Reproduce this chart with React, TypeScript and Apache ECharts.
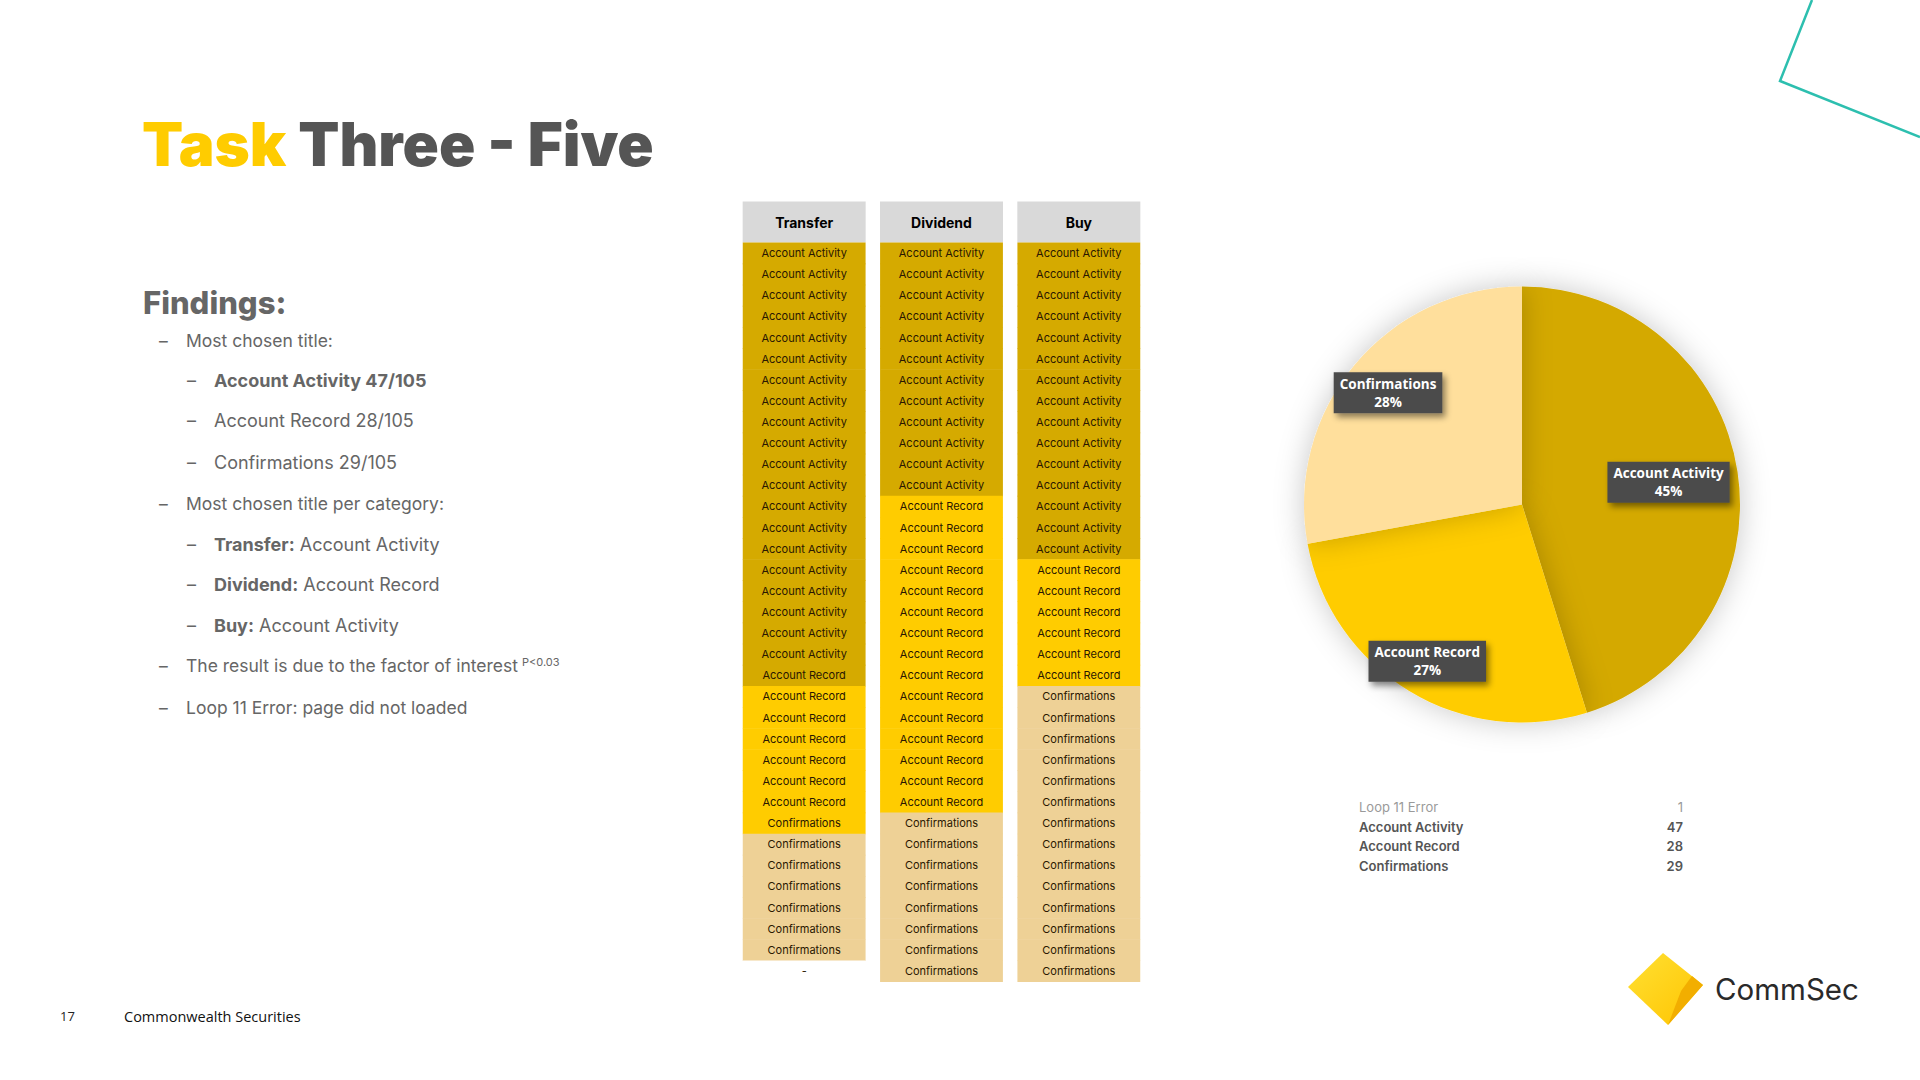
import React, { useEffect, useRef } from "react";
import * as echarts from "echarts";

// ---------- data ----------
const columnHeaders = ["Transfer", "Dividend", "Buy"];

// run-length lists of the titles written in each column (top to bottom)
const transferTitleRuns: [string, number][] = [
  ["Account Activity", 20],
  ["Account Record", 7],
  ["Confirmations", 7],
  ["-", 1],
];
const dividendTitleRuns: [string, number][] = [
  ["Account Activity", 12],
  ["Account Record", 15],
  ["Confirmations", 8],
];
const buyTitleRuns: [string, number][] = [
  ["Account Activity", 15],
  ["Account Record", 6],
  ["Confirmations", 14],
];

// run-length lists of the cell shading in each column
const transferFillRuns: [string, number][] = [
  ["Account Activity", 21],
  ["Account Record", 7],
  ["Confirmations", 6],
  ["none", 1],
];
const dividendFillRuns: [string, number][] = [
  ["Account Activity", 12],
  ["Account Record", 15],
  ["Confirmations", 8],
];
const buyFillRuns: [string, number][] = [
  ["Account Activity", 15],
  ["Account Record", 6],
  ["Confirmations", 14],
];

const pieCategories = ["Account Activity", "Account Record", "Confirmations"];
const pieValues = [47, 28, 29];

const summaryLabels = ["Loop 11 Error", "Account Activity", "Account Record", "Confirmations"];
const summaryValues = [1, 47, 28, 29];

// ---------- styles ----------
const tableFill: Record<string, string> = {
  "Account Activity": "#D5AA00",
  "Account Record": "#FFCC00",
  Confirmations: "#EED196",
  none: "#FFFFFF",
};
const pieColors = ["#D4A900", "#FFCC00", "#FFDF9C"];
const labelRadiusFactor = [0.68, 0.84, 0.8];

const PIE_CX = 1522;
const PIE_CY = 504.5;
const PIE_R = 218;

const expand = (runs: [string, number][]) => {
  const out: string[] = [];
  runs.forEach(([v, n]) => {
    for (let i = 0; i < n; i++) out.push(v);
  });
  return out;
};

const titleCols = [transferTitleRuns, dividendTitleRuns, buyTitleRuns].map(expand);
const fillCols = [transferFillRuns, dividendFillRuns, buyFillRuns].map(expand);
const rowCount = Math.max(...titleCols.map((c) => c.length));
const rowNames = titleCols[1].map((_, i) => String(i + 1));

const cells: { value: number[]; title: string; fill: string }[] = [];
titleCols.forEach((col, ci) => {
  col.forEach((t, ri) => {
    cells.push({ value: [ci, ri], title: t, fill: fillCols[ci][ri] });
  });
});

const TEXT_GREY = "#666666";
const FONT = "Inter, 'Noto Sans', sans-serif";

export default function App() {
  const ref = useRef<HTMLDivElement>(null);

  useEffect(() => {
    if (!ref.current) return;
    const chart = echarts.init(ref.current, undefined, { renderer: "svg" });
    const total = pieValues.reduce((a, b) => a + b, 0);

    const line = (y: number, level: number, text: string, bold = false): any[] => {
      const dashX = level === 1 ? 159 : 187;
      const textX = level === 1 ? 186 : 214;
      const size = level === 1 ? 17.5 : 18;
      return [
        {
          type: "text",
          style: {
            text: "–",
            x: dashX,
            y,
            verticalAlign: "middle",
            fontSize: size,
            fontFamily: FONT,
            fill: TEXT_GREY,
          },
        },
        {
          type: "text",
          style: {
            text,
            x: textX,
            y,
            verticalAlign: "middle",
            fontSize: size,
            fontFamily: FONT,
            fontWeight: bold ? "bold" : "normal",
            fill: TEXT_GREY,
            rich: {
              b: { fontSize: size, fontFamily: FONT, fontWeight: "bold", fill: TEXT_GREY },
              n: { fontSize: size, fontFamily: FONT, fontWeight: "normal", fill: TEXT_GREY },
              s: { fontSize: 11, fontFamily: FONT, fontWeight: "normal", fill: TEXT_GREY, verticalAlign: "top", padding: [0, 0, 0, 4] },
            },
          },
        },
      ];
    };

    const summaryY = [807, 827, 846, 866];
    const summaryGraphics: any[] = [];
    summaryLabels.forEach((lab, i) => {
      const first = i === 0;
      const st = {
        verticalAlign: "middle",
        fontSize: 13,
        fontFamily: FONT,
        fontWeight: first ? "normal" : 600,
        fill: first ? "#9a9a9a" : "#555555",
      };
      summaryGraphics.push({ type: "text", style: { ...st, text: lab, x: 1359, y: summaryY[i] } });
      summaryGraphics.push({
        type: "text",
        style: { ...st, text: String(summaryValues[i]), x: 1683, y: summaryY[i], align: "right" },
      });
    });

    const option: any = {
      animation: false,
      backgroundColor: "#FFFFFF",
      grid: { left: 735.5, top: 242.5, width: 412, height: 739, containLabel: false },
      xAxis: {
        type: "category",
        position: "top",
        data: columnHeaders,
        axisLine: { show: false },
        axisTick: { show: false },
        splitLine: { show: false },
        axisLabel: {
          margin: 0,
          interval: 0,
          backgroundColor: "#D9D9D9",
          width: 123,
          height: 41,
          lineHeight: 41,
          align: "center",
          fontSize: 14,
          fontWeight: "bold",
          fontFamily: "Inter, Arial, sans-serif",
          color: "#000000",
        },
      },
      yAxis: { type: "category", inverse: true, data: rowNames.slice(0, rowCount), show: false },
      series: [
        {
          type: "custom",
          silent: true,
          data: cells.map((c) => c.value),
          renderItem: (params: any, api: any) => {
            const c = cells[params.dataIndex];
            const pt = api.coord([api.value(0), api.value(1)]);
            const sz = api.size([1, 1]);
            const w = sz[0] - 14.5;
            const h = sz[1];
            return {
              type: "group",
              children: [
                {
                  type: "rect",
                  shape: { x: pt[0] - w / 2, y: pt[1] - h / 2, width: w, height: h + 0.6 },
                  style: { fill: tableFill[c.fill] },
                },
                {
                  type: "text",
                  style: {
                    text: c.title,
                    x: pt[0],
                    y: pt[1],
                    align: "center",
                    verticalAlign: "middle",
                    fontSize: 11,
                    fontFamily: FONT,
                    fill: "#2a1700",
                  },
                },
              ],
            };
          },
        },
        {
          type: "pie",
          silent: true,
          center: [PIE_CX, PIE_CY],
          radius: PIE_R,
          startAngle: 90,
          clockwise: true,
          data: pieCategories.map((n, i) => ({
            name: n,
            value: pieValues[i],
            itemStyle: { color: pieColors[i] },
          })),
          itemStyle: { shadowBlur: 30, shadowColor: "rgba(0,0,0,0.22)" },
          label: {
            show: true,
            position: "inside",
            formatter: (p: any) => `${p.name}\n${Math.round(p.percent)}%`,
            color: "#FFFFFF",
            fontFamily: "'Open Sans', sans-serif",
            fontWeight: "bold",
            fontSize: 13.5,
            lineHeight: 18,
            align: "center",
            backgroundColor: "#4B4B4B",
            padding: [3, 6, 2, 6],
            shadowBlur: 6,
            shadowOffsetX: 3,
            shadowOffsetY: 4,
            shadowColor: "rgba(0,0,0,0.45)",
          },
          labelLine: { show: false },
          labelLayout: (p: any) => {
            const i = p.dataIndex;
            const before = pieValues.slice(0, i).reduce((a, b) => a + b, 0);
            const mid = ((before + pieValues[i] / 2) / total) * Math.PI * 2;
            const r = PIE_R * labelRadiusFactor[i];
            return {
              x: PIE_CX + r * Math.sin(mid),
              y: PIE_CY - r * Math.cos(mid),
              align: "center",
              verticalAlign: "middle",
            };
          },
          emphasis: { disabled: true },
        },
      ],
      graphic: [
        {
          type: "polyline",
          shape: { points: [[1812, 0], [1780, 81], [1920, 137]] },
          style: { stroke: "#2DBFAF", lineWidth: 2.5, fill: "none" },
        },
        {
          type: "text",
          style: {
            text: "{y|Task }{g|Three - Five}",
            x: 142,
            y: 144,
            verticalAlign: "middle",
            rich: {
              y: { fontSize: 60, fontWeight: 900, fontFamily: FONT, fill: "#FFCC00" },
              g: { fontSize: 60, fontWeight: 900, fontFamily: FONT, fill: "#555555" },
            },
          },
        },
        {
          type: "text",
          style: {
            text: "Findings:",
            x: 143,
            y: 302,
            verticalAlign: "middle",
            fontSize: 31,
            fontWeight: 800,
            fontFamily: FONT,
            fill: TEXT_GREY,
          },
        },
        ...line(340, 1, "Most chosen title:"),
        ...line(380, 2, "Account Activity 47/105", true),
        ...line(420, 2, "Account Record 28/105"),
        ...line(462, 2, "Confirmations 29/105"),
        ...line(503, 1, "Most chosen title per category:"),
        ...line(544, 2, "{b|Transfer:}{n| Account Activity}"),
        ...line(584, 2, "{b|Dividend:}{n| Account Record}"),
        ...line(625, 2, "{b|Buy:}{n| Account Activity}"),
        ...line(665, 1, "{n|The result is due to the factor of interest}{s|P<0.03}"),
        ...line(707, 1, "Loop 11 Error: page did not loaded"),
        ...summaryGraphics,
        {
          type: "text",
          style: {
            text: "17",
            x: 60,
            y: 1016,
            verticalAlign: "middle",
            fontSize: 13,
            fontFamily: "'Open Sans', sans-serif",
            fill: "#222222",
          },
        },
        {
          type: "text",
          style: {
            text: "Commonwealth Securities",
            x: 124,
            y: 1016,
            verticalAlign: "middle",
            fontSize: 14.5,
            fontFamily: "'Open Sans', sans-serif",
            fill: "#111111",
          },
        },
        // CommSec logo
        {
          type: "polygon",
          shape: { points: [[1663, 953], [1703, 985], [1668, 1025], [1628, 987]] },
          style: {
            fill: new echarts.graphic.LinearGradient(0, 0, 1, 1, [
              { offset: 0, color: "#FFE033" },
              { offset: 1, color: "#FFC400" },
            ]),
          },
        },
        {
          type: "polygon",
          shape: { points: [[1692, 976], [1703, 985], [1668, 1025], [1681, 991]] },
          style: { fill: "#F2AE00" },
        },
        {
          type: "text",
          style: {
            text: "CommSec",
            x: 1715,
            y: 989,
            verticalAlign: "middle",
            fontSize: 29.5,
            fontFamily: FONT,
            letterSpacing: -1,
            fill: "#2a2a2a",
          },
        },
      ],
    };

    chart.setOption(option);
    return () => chart.dispose();
  }, []);

  return (
    <div ref={ref} style={{ position: "absolute", left: 0, top: 0, width: 1920, height: 1080 }} />
  );
}
